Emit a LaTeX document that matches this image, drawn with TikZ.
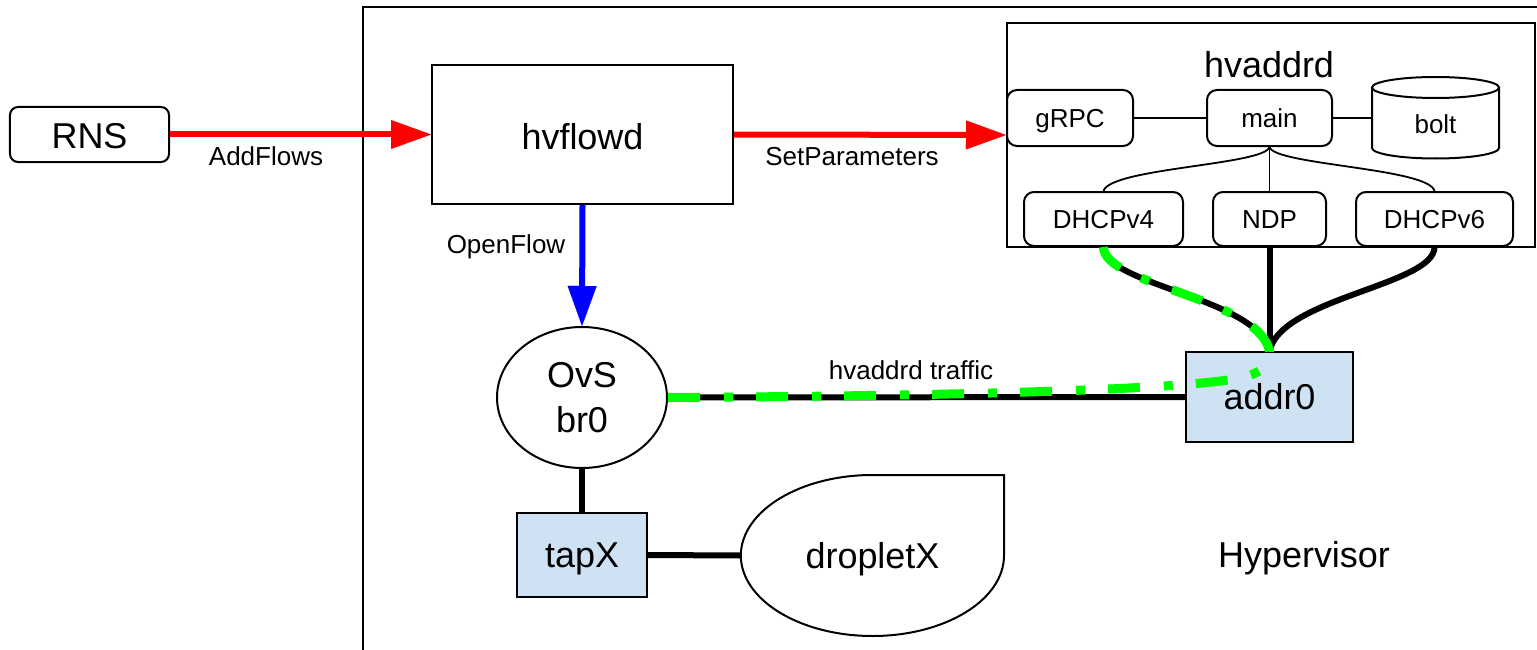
\documentclass[tikz,border=0pt]{standalone}
\usepackage{fontspec}
\setmainfont{Liberation Sans}
\usetikzlibrary{arrows.meta,shapes.geometric}
\definecolor{tapblue}{HTML}{CFE2F3}
\definecolor{flowgreen}{HTML}{00FF00}
\definecolor{callred}{HTML}{FF0000}
\definecolor{ofblue}{HTML}{0000FF}
\tikzset{
  bigfont/.style={font=\fontsize{36.1}{45}\selectfont},
  smallfont/.style={font=\fontsize{26.1}{31}\selectfont},
  bigcap/.style={bigfont, text height=25.9bp, text depth=0pt},
  smallcap/.style={smallfont, text height=18.7bp, text depth=0pt},
  outline/.style={draw, line width=2bp},
  blockbox/.style={outline, rectangle, inner sep=0pt},
  roundbox/.style={blockbox, rounded corners=10bp},
  tapbox/.style={blockbox, fill=tapblue},
  wire/.style={line width=6bp},
  thinwire/.style={line width=1.8bp},
  callarrow/.style={line width=6bp, -{Triangle[length=40bp,width=29bp,line width=0.01bp]}},
  trafficline/.style={draw=flowgreen, line width=9bp, dash pattern=on 32bp off 24bp on 9bp off 23bp},
  tagtext/.style={smallfont, anchor=base, inner sep=0pt},
}
\begin{document}
\begin{tikzpicture}[x=1bp,y=-1bp]
\useasboundingbox (0,0) rectangle (1537,650);
\clip (0,0) rectangle (1537,650);

% hypervisor frame
\draw[outline] (363,7) rectangle (1600,700);
\node[bigfont, anchor=base, inner sep=0pt] (hvlabel) at (1304,567) {Hypervisor};

% controller side
\node[roundbox, bigcap, text height=29bp, rounded corners=8bp, minimum width=159bp, minimum height=55bp] (rns) at (89.5,134.5) {RNS};
\node[blockbox, bigcap, text height=31bp, minimum width=301bp, minimum height=139bp] (hvflowd) at (582.5,134.5) {hvflowd};

% hvaddrd daemon
\node[blockbox, minimum width=528bp, minimum height=224bp] (hvaddrd) at (1271,135) {};
\node[bigfont, anchor=base, inner sep=0pt] (hvaddrdtitle) at (1269,78) {hvaddrd};
\node[roundbox, smallcap, minimum width=126bp, minimum height=56bp] (grpc) at (1070,118) {gRPC};
\node[roundbox, smallcap, minimum width=125bp, minimum height=56bp] (main) at (1269.5,118) {main};
\node[smallcap, inner sep=0pt, minimum width=127bp, minimum height=82bp] (bolt) at (1435.5,123.7) {bolt};
\draw[outline] (1435.5,87.5) ellipse [x radius=63.5bp, y radius=10.5bp];
\draw[outline] (1372,87.5) -- (1372,148) arc[start angle=180, end angle=360, x radius=63.5bp, y radius=10.5bp] -- (1499,87.5);
\node[roundbox, smallcap, minimum width=159bp, minimum height=54bp] (dhcp4) at (1103.5,219) {DHCPv4};
\node[roundbox, smallcap, minimum width=113bp, minimum height=54bp] (ndp) at (1269.5,219) {NDP};
\node[roundbox, smallcap, minimum width=157bp, minimum height=54bp] (dhcp6) at (1434.5,219) {DHCPv6};

\draw[thinwire] (grpc.east) -- (main.west);
\draw[thinwire] (main.east) -- (main.east -| bolt.west);
\draw[thinwire] (main.south) .. controls (1265,165) and (1110,168) .. (dhcp4.north);
\draw[thinwire] (main.south) -- (ndp.north);
\draw[thinwire] (main.south) .. controls (1274,165) and (1429,168) .. (dhcp6.north);

% data plane
\node[ellipse, outline, bigfont, align=center, inner sep=0pt, minimum width=170bp, minimum height=141bp] (ovs) at (582,397.5) {OvS\\br0};
\node[tapbox, bigcap, minimum width=167bp, minimum height=90bp] (addr0) at (1269.5,397) {addr0};
\node[tapbox, bigcap, minimum width=130bp, minimum height=84bp] (tapx) at (582,555) {tapX};
\node[bigcap, inner sep=0pt, minimum width=263bp, minimum height=161bp] (droplet) at (872.5,555.5) {dropletX};
\draw[outline] (droplet.west) .. controls (741,600) and (800,636) .. (872.5,636)
  .. controls (945,636) and (1004,600) .. (1004,555.5) -- (1004,475) -- (872.5,475)
  .. controls (800,475) and (741,511) .. (droplet.west) -- cycle;

% control connections
\draw[callarrow, callred] (rns.east) -- (hvflowd.west);
\node[tagtext] (addflows) at (266,165) {AddFlows};
\draw[callarrow, callred] (hvflowd.east) -- (hvaddrd.west);
\node[tagtext] (setparams) at (852,165) {SetParameters};
\draw[callarrow, ofblue] (hvflowd.south) -- (ovs.north);
\node[tagtext] (openflow) at (506,253) {OpenFlow};

% links
\draw[wire] (ovs.east) -- (addr0.west);
\draw[wire] (ovs.south) -- (tapx.north);
\draw[wire] (tapx.east) -- (droplet.west);
\draw[wire] (dhcp4.south) .. controls (1103.5,285) and (1258,298) .. (addr0.north);
\draw[wire] (ndp.south) -- (addr0.north);
\draw[wire] (dhcp6.south) .. controls (1434.5,285) and (1281,298) .. (addr0.north);

% traffic path
\draw[trafficline] (ovs.east) .. controls (950,396) and (1180,390) .. (1240,378)
  .. controls (1262,373) and (1270,365) .. (addr0.north)
  .. controls (1258,298) and (1103.5,285) .. (dhcp4.south);
\node[tagtext] (traffic) at (911,379) {hvaddrd traffic};
\end{tikzpicture}
\end{document}
